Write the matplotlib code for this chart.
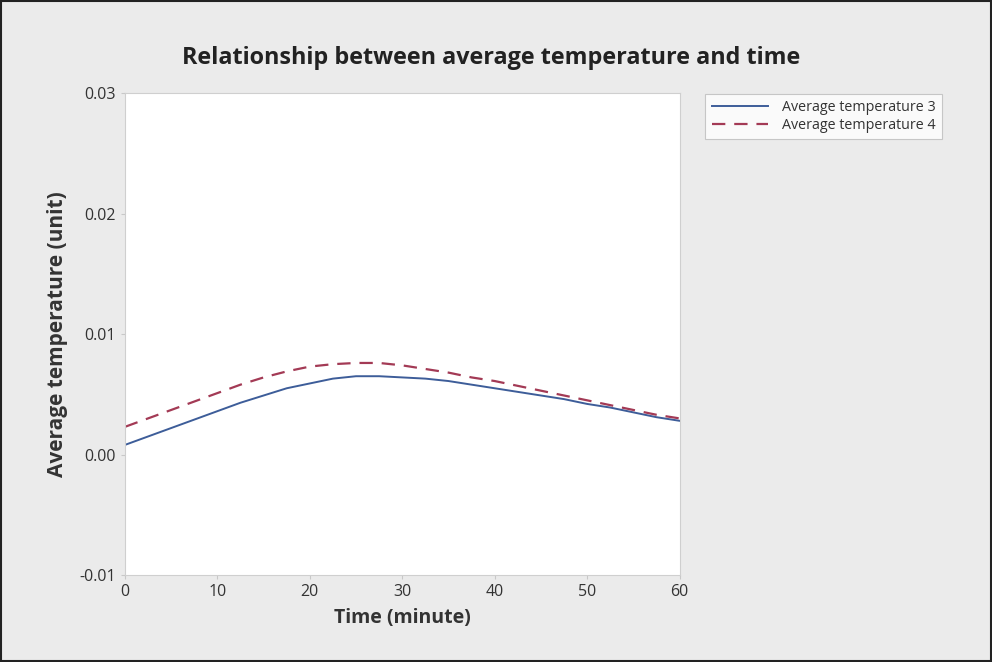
import matplotlib.pyplot as plt
from matplotlib.patches import Rectangle

# Datos
time_min = [0, 2.5, 5, 7.5, 10, 12.5, 15, 17.5, 20, 22.5, 25, 27.5, 30,
            32.5, 35, 37.5, 40, 42.5, 45, 47.5, 50, 52.5, 55, 57.5, 60]
avg_temp_3 = [0.0008, 0.0015, 0.0022, 0.0029, 0.0036, 0.0043, 0.0049,
              0.0055, 0.0059, 0.0063, 0.0065, 0.0065, 0.0064, 0.0063,
              0.0061, 0.0058, 0.0055, 0.0052, 0.0049, 0.0046, 0.0042,
              0.0039, 0.0035, 0.0031, 0.0028]
avg_temp_4 = [0.0023, 0.0030, 0.0037, 0.0044, 0.0051, 0.0058, 0.0064,
              0.0069, 0.0073, 0.0075, 0.0076, 0.0076, 0.0074, 0.0071,
              0.0068, 0.0064, 0.0061, 0.0057, 0.0053, 0.0049, 0.0045,
              0.0041, 0.0037, 0.0033, 0.0030]
x_ticks = [0, 10, 20, 30, 40, 50, 60]
y_ticks = [-0.01, 0.00, 0.01, 0.02, 0.03]

plt.rcParams['font.family'] = ['Open Sans', 'DejaVu Sans']

fig = plt.figure(figsize=(9.92, 6.62), dpi=100, facecolor='#ebebeb')
ax = fig.add_axes([0.126, 0.1314, 0.559, 0.728])
ax.set_facecolor('white')

ax.plot(time_min, avg_temp_3, '-', color='#3d5d99', linewidth=1.4,
        label='Average temperature 3')
ax.plot(time_min, avg_temp_4, '--', color='#a33a55', linewidth=1.6,
        dashes=(6, 4), label='Average temperature 4')

ax.set_xlim(0, 60)
ax.set_ylim(-0.01, 0.03)
ax.set_xticks(x_ticks)
ax.set_yticks(y_ticks)
ax.set_xticklabels([str(t) for t in x_ticks])
ax.set_yticklabels([f'{v:.2f}' for v in y_ticks])
ax.tick_params(colors='#c8c8c8', labelcolor='#333333', labelsize=11.5,
               length=3, width=0.8)
for s in ax.spines.values():
    s.set_color('#cfcfcf')
    s.set_linewidth(0.8)

ax.set_xlabel('Time (minute)', fontsize=14, fontweight='bold',
              color='#333333', labelpad=6)
ax.set_ylabel('Average temperature (unit)', fontsize=15, fontweight='bold',
              color='#333333', labelpad=8)

fig.text(0.495, 0.913, 'Relationship between average temperature and time',
         ha='center', va='center', fontsize=16.8, fontweight='bold',
         color='#222222')

leg = fig.legend(loc='upper left', bbox_to_anchor=(0.711, 0.858),
                 fontsize=10.3, frameon=True, fancybox=False,
                 handlelength=3.9, borderpad=0.45, labelspacing=0.15,
                 handletextpad=1.0, borderaxespad=0)
leg.get_frame().set_edgecolor('#bbbbbb')
leg.get_frame().set_linewidth(0.8)
for t in leg.get_texts():
    t.set_color('#333333')

# Marco exterior
fig.patches.append(Rectangle((0.001, 0.0015), 0.998, 0.997,
                             transform=fig.transFigure, fill=False,
                             edgecolor='#222222', linewidth=1.5))

plt.savefig('out.png', dpi=100, facecolor=fig.get_facecolor())
